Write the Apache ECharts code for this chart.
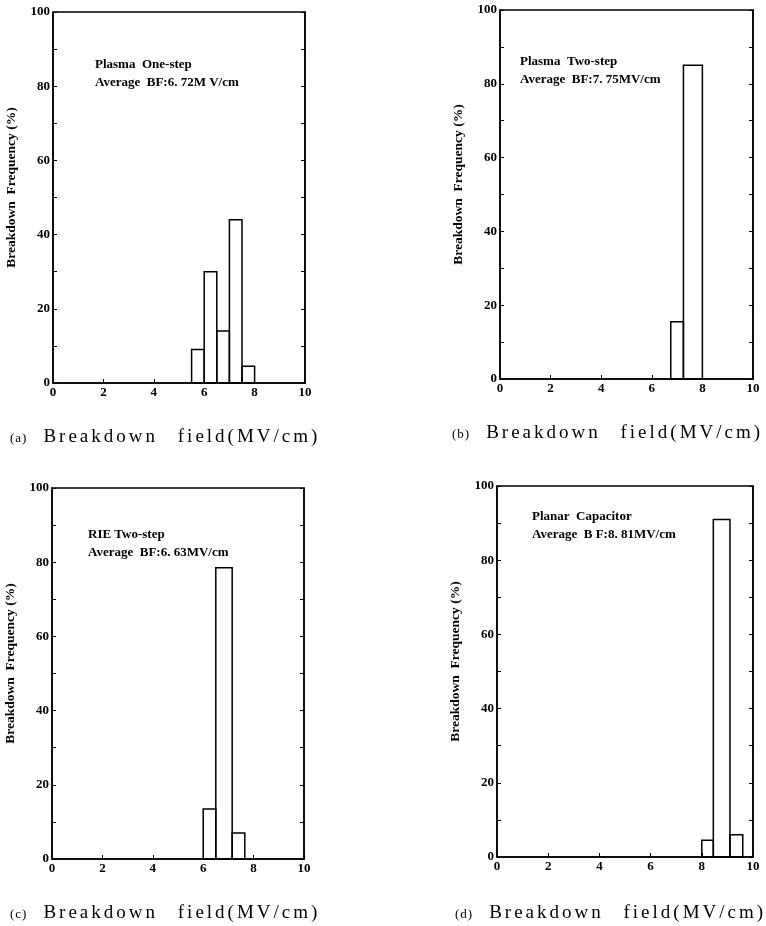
<!DOCTYPE html>
<html>
<head>
<meta charset="utf-8">
<script src="https://cdn.jsdelivr.net/npm/echarts@6/dist/echarts.min.js"></script>
<style>
  html, body { margin: 0; padding: 0; background: #fff; }
  #wrap { position: relative; width: 766px; height: 926px; }
  #chart { width: 766px; height: 926px; }
  .cap {
    position: absolute; font-family: "Liberation Serif", "DejaVu Serif", serif;
    font-size: 19px; letter-spacing: 3px; word-spacing: 12px; color: #000; white-space: nowrap;
    line-height: 20px;
  }
  .cap span { font-size: 13px; letter-spacing: 1px; word-spacing: 0; margin-right: 16px; }
</style>
</head>
<body>
<div id="wrap">
  <div id="chart"></div>
  <div class="cap" style="left:10px; top:426px;"><span>(a)</span>Breakdown field(MV/cm)</div>
  <div class="cap" style="left:452px; top:422px;"><span>(b)</span>Breakdown field(MV/cm)</div>
  <div class="cap" style="left:10px; top:902px;"><span>(c)</span>Breakdown field(MV/cm)</div>
  <div class="cap" style="left:455px; top:902px;"><span>(d)</span>Breakdown field(MV/cm)</div>
</div>
<script>
// bin edges (MV/cm) and breakdown frequency (%) for each panel
const edgesA = [5.5, 6, 6.5, 7, 7.5, 8];
const freqA = [9, 30, 14, 44, 4.5];
const edgesB = [6.75, 7.25, 8];
const freqB = [15.5, 85];
const edgesC = [6, 6.5, 7.15, 7.65];
const freqC = [13.5, 78.5, 7];
const edgesD = [8, 8.45, 9.1, 9.6];
const freqD = [4.5, 91, 6];

const notes = [
  ['Plasma  One-step', 'Average  BF:6. 72M V/cm'],
  ['Plasma  Two-step', 'Average  BF:7. 75MV/cm'],
  ['RIE Two-step', 'Average  BF:6. 63MV/cm'],
  ['Planar  Capacitor', 'Average  B F:8. 81MV/cm']
];
// where each note sits, relative to its grid
const notePos = [[42, 44], [20, 43], [36, 38], [35, 22]];

const FONT = '"Liberation Serif", "DejaVu Serif", serif';

const grids = [
  { left: 53, top: 12, width: 252, height: 371 },
  { left: 500, top: 10, width: 253, height: 369 },
  { left: 52, top: 488, width: 252, height: 371 },
  { left: 497, top: 486, width: 256, height: 371 }
];

function toBins(edges, freq) {
  const out = [];
  for (let i = 0; i < freq.length; i++) {
    out.push([edges[i], edges[i + 1], freq[i]]);
  }
  return out;
}
const panels = [toBins(edgesA, freqA), toBins(edgesB, freqB), toBins(edgesC, freqC), toBins(edgesD, freqD)];

const chart = echarts.init(document.getElementById('chart'));

const xAxis = [], yAxis = [], series = [], graphic = [];
grids.forEach((g, i) => {
  xAxis.push({
    gridIndex: i, type: 'value', min: 0, max: 10, interval: 2,
    axisLine: { lineStyle: { color: '#000', width: 1.5 } },
    axisTick: { inside: true, length: 4, lineStyle: { color: '#000' } },
    splitLine: { show: false },
    axisLabel: { color: '#000', fontFamily: FONT, fontWeight: 'bold', fontSize: 13, margin: 3 }
  });
  yAxis.push({
    gridIndex: i, type: 'value', min: 0, max: 100, interval: 20,
    name: 'Breakdown  Frequency (%)', nameLocation: 'middle', nameGap: 34, nameRotate: 90,
    nameTextStyle: { color: '#000', fontFamily: FONT, fontSize: 13.5, fontWeight: 'bold', padding: [0, 0, 0, 20] },
    axisLine: { show: true, lineStyle: { color: '#000', width: 1.5 } },
    axisTick: { inside: true, length: 4, lineStyle: { color: '#000' } },
    minorTick: { show: true, splitNumber: 2, length: 4, lineStyle: { color: '#000' } },
    splitLine: { show: false },
    axisLabel: { color: '#000', fontFamily: FONT, fontWeight: 'bold', fontSize: 13, margin: 3 }
  });
  yAxis.push({
    gridIndex: i, type: 'value', min: 0, max: 100, interval: 10, position: 'right',
    axisLine: { show: true, lineStyle: { color: '#000', width: 1.5 } },
    axisTick: { show: true, inside: true, length: 4, lineStyle: { color: '#000' } },
    axisLabel: { show: false },
    splitLine: { show: false }
  });
  series.push({
    type: 'custom',
    xAxisIndex: i, yAxisIndex: i * 2,
    data: panels[i],
    encode: { x: [0, 1], y: 2 },
    renderItem: function (params, api) {
      const p0 = api.coord([api.value(0), api.value(2)]);
      const p1 = api.coord([api.value(1), 0]);
      return {
        type: 'rect',
        shape: { x: p0[0], y: p0[1], width: p1[0] - p0[0], height: p1[1] - p0[1] },
        style: { fill: 'none', stroke: '#000', lineWidth: 1.5 }
      };
    }
  });
  graphic.push({
    type: 'text', left: g.left + notePos[i][0], top: g.top + notePos[i][1],
    style: {
      text: notes[i].join('\n'), fill: '#000', font: 'bold 13px ' + FONT, lineHeight: 18
    }
  });
});

chart.setOption({
  animation: false,
  backgroundColor: '#fff',
  grid: grids.map(g => Object.assign({ show: true, borderColor: '#000', borderWidth: 1.5 }, g)),
  xAxis: xAxis,
  yAxis: yAxis,
  series: series,
  graphic: graphic
});
</script>
</body>
</html>
